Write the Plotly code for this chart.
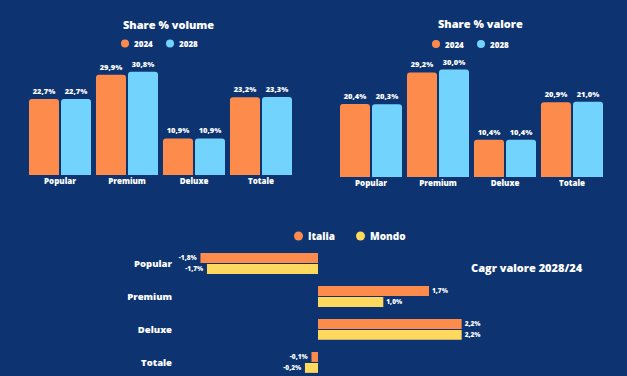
import plotly.graph_objects as go

W, H = 627, 376

categories = ["Popular", "Premium", "Deluxe", "Totale"]
years = ["2024", "2028"]
volume_2024 = [22.7, 29.9, 10.9, 23.2]
volume_2028 = [22.7, 30.8, 10.9, 23.3]
valore_2024 = [20.4, 29.2, 10.4, 20.9]
valore_2028 = [20.3, 30.0, 10.4, 21.0]
regions = ["Italia", "Mondo"]
cagr_italia = [-1.8, 1.7, 2.2, -0.1]
cagr_mondo = [-1.7, 1.0, 2.2, -0.2]

BG = "#0d3470"
ORANGE = "#fd8c4c"
BLUE = "#72d4fc"
YELLOW = "#ffd95e"
WHITE = "#ffffff"
FAM = "Open Sans"


def fx(p):
    return p / W


def fy(p):
    return 1 - p / H


def fmt(v):
    return f"{v:.1f}".replace(".", ",") + "%"


def font(size, weight=800):
    return dict(family=FAM, size=size, color=WHITE, weight=weight)


fig = go.Figure()

# ---- vertical bar charts ----
V_W = 0.448
V_OFF = [-0.463, 0.015]
panels = [
    ("x", "y", [volume_2024, volume_2028]),
    ("x2", "y2", [valore_2024, valore_2028]),
]
for xa, ya, series in panels:
    for i, (vals, col) in enumerate(zip(series, [ORANGE, BLUE])):
        fig.add_trace(go.Bar(
            x=categories, y=vals, xaxis=xa, yaxis=ya, name=years[i],
            width=V_W, offset=V_OFF[i],
            marker=dict(color=col, cornerradius=3, line=dict(width=0)),
            text=[fmt(v) for v in vals], textposition="outside",
            textfont=font(7.5), cliponaxis=False, constraintext="none",
            hoverinfo="skip",
        ))

# ---- horizontal CAGR chart ----
H_W = 0.30
H_OFF = [-0.318, 0.015]
for i, (vals, col) in enumerate(zip([cagr_italia, cagr_mondo], [ORANGE, YELLOW])):
    fig.add_trace(go.Bar(
        y=categories, x=vals, orientation="h", xaxis="x3", yaxis="y3",
        name=regions[i], width=H_W, offset=H_OFF[i],
        marker=dict(color=col, line=dict(width=0)),
        text=[fmt(v) for v in vals], textposition="outside",
        textfont=font(6.5), cliponaxis=False, constraintext="none",
        hoverinfo="skip",
    ))

hidden = dict(showgrid=False, zeroline=False, showline=False, ticks="",
              fixedrange=True)

# legend entries drawn as circle + label (positions in px)
legend_items = [
    (years[0], ORANGE, 125, 43.5, 8, 8),
    (years[1], BLUE, 170, 43.5, 8, 8),
    (years[0], ORANGE, 436, 44, 8, 8),
    (years[1], BLUE, 481, 44, 8, 8),
    (regions[0], ORANGE, 298.5, 236, 9, 10),
    (regions[1], YELLOW, 360.5, 236, 9, 10),
]
shapes = []
annotations = [
    dict(text="Share % volume", x=fx(168), y=fy(25), xref="paper",
         yref="paper", showarrow=False, font=font(11),
         xanchor="center", yanchor="middle"),
    dict(text="Share % valore", x=fx(480), y=fy(23), xref="paper",
         yref="paper", showarrow=False, font=font(11),
         xanchor="center", yanchor="middle"),
    dict(text="Cagr valore 2028/24", x=fx(527), y=fy(267), xref="paper",
         yref="paper", showarrow=False, font=font(11),
         xanchor="center", yanchor="middle"),
]
for label, col, cx, cy, d, fs in legend_items:
    r = d / 2
    shapes.append(dict(type="circle", xref="paper", yref="paper",
                       x0=fx(cx - r), x1=fx(cx + r), y0=fy(cy + r), y1=fy(cy - r),
                       fillcolor=col, line=dict(width=0)))
    annotations.append(dict(text=label, x=fx(cx + r + 3), y=fy(cy),
                            xref="paper", yref="paper", showarrow=False,
                            font=font(fs), xanchor="left", yanchor="middle"))

fig.update_layout(
    width=W, height=H,
    margin=dict(l=0, r=0, t=0, b=0),
    paper_bgcolor=BG, plot_bgcolor=BG,
    barmode="overlay", showlegend=False,
    xaxis=dict(domain=[fx(26.5), fx(294.5)], anchor="y", type="category",
               range=[-0.5, 3.5], tickfont=font(8), **hidden),
    yaxis=dict(domain=[fy(175), fy(60)], anchor="x", range=[0, 115 / 3.35],
               showticklabels=False, **hidden),
    xaxis2=dict(domain=[fx(337.5), fx(605.5)], anchor="y2", type="category",
                range=[-0.5, 3.5], tickfont=font(8), **hidden),
    yaxis2=dict(domain=[fy(177), fy(60)], anchor="x2", range=[0, 117 / 3.58],
                showticklabels=False, **hidden),
    xaxis3=dict(domain=[fx(180), fx(480)], anchor="y3",
                range=[(180 - 318) / 65.3, (480 - 318) / 65.3],
                showticklabels=False, **hidden),
    yaxis3=dict(domain=[0, fy(247)], anchor="x3", type="category",
                range=[3.41, -0.5], tickfont=font(9.5),
                ticklabelstandoff=7, **hidden),
    shapes=shapes,
    annotations=annotations,
)

fig.write_html(
    "out.html",
    config={"displayModeBar": False},
    post_script="document.body.style.margin='0';"
                "document.body.style.overflow='hidden';"
                "document.documentElement.style.background='" + BG + "';",
)
